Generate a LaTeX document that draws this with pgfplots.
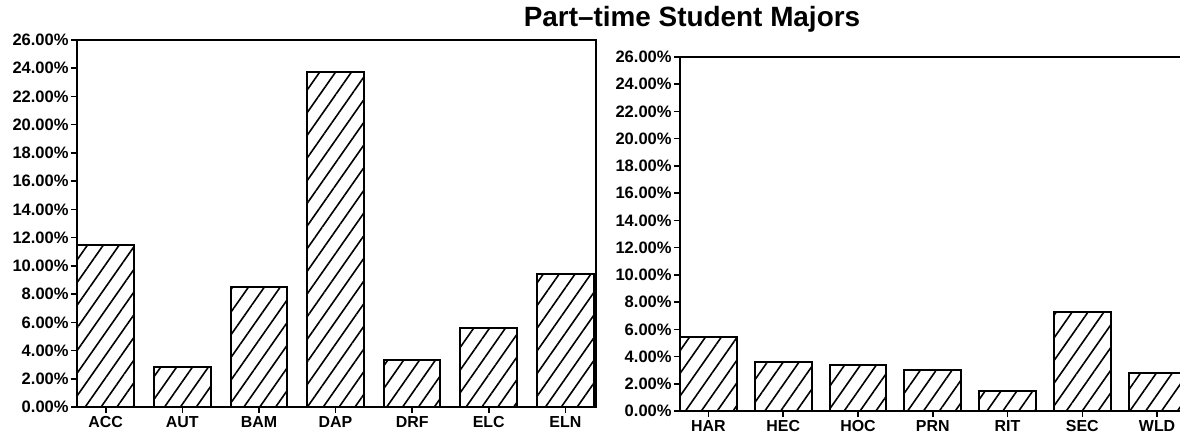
\documentclass[border=0pt]{standalone}
\usepackage{pgfplots}
\pgfplotsset{compat=1.18}
\usepackage{fontspec}
\setmainfont{Liberation Sans}
\usetikzlibrary{patterns.meta}
\begin{document}
\begin{tikzpicture}
\useasboundingbox (0,0) rectangle (590bp,219bp);
\pgfplotsset{
  majors/.style={
    scale only axis, anchor=south west,
    ymin=0, ymax=26, ytick={0,2,...,26},
    yticklabels={0.00\%,2.00\%,4.00\%,6.00\%,8.00\%,10.00\%,12.00\%,14.00\%,16.00\%,18.00\%,20.00\%,22.00\%,24.00\%,26.00\%},
    xtick=data, xtick pos=bottom, ytick pos=left, tick align=outside,
    major tick length=3bp,
    tick style={black, line width=0.8bp},
    axis line style={line width=1bp},
    yticklabel style={font=\fontsize{8.3}{9}\selectfont\bfseries, inner sep=1bp},
    xticklabel style={font=\fontsize{8}{9}\selectfont\bfseries, inner sep=1.5bp},
  },
  hatchbar/.style={ybar, draw=black, line width=1bp,
    pattern={Lines[angle=55,distance=6.5bp,line width=0.8bp]}},
}
\begin{axis}[majors, at={(38.5bp,15.5bp)}, width=259.5bp, height=183.5bp,
  xmin=-0.375, xmax=6.4, bar width=0.74,
  xticklabels={ACC,AUT,BAM,DAP,DRF,ELC,ELN}]
\addplot[hatchbar] coordinates {(0,11.5) (1,2.8) (2,8.5) (3,23.7) (4,3.3) (5,5.6) (6,9.4)};
\end{axis}
\begin{axis}[majors, at={(340bp,13.5bp)}, width=253.5bp, height=177bp,
  xmin=-0.381, xmax=6.4, bar width=0.76,
  xticklabels={HAR,HEC,HOC,PRN,RIT,SEC,WLD}]
\addplot[hatchbar] coordinates {(0,5.4) (1,3.6) (2,3.4) (3,3.0) (4,1.5) (5,7.3) (6,2.8)};
\end{axis}
\node[anchor=base, font=\fontsize{14}{16}\selectfont\bfseries] at (346bp,205.5bp) {Part–time Student Majors};
\end{tikzpicture}
\end{document}
